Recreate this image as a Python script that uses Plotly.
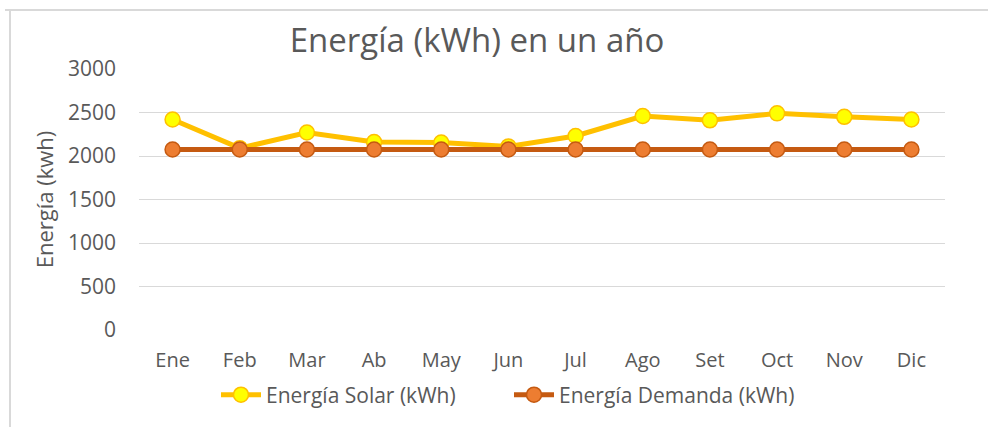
import plotly.graph_objects as go

months = ["Ene", "Feb", "Mar", "Ab", "May", "Jun", "Jul", "Ago", "Set", "Oct", "Nov", "Dic"]
solar = [2420, 2090, 2270, 2160, 2155, 2110, 2230, 2460, 2410, 2490, 2450, 2420]
demanda = [2075, 2075, 2075, 2075, 2075, 2075, 2075, 2075, 2075, 2075, 2075, 2075]
y_ticks = [0, 500, 1000, 1500, 2000, 2500, 3000]

FONT = "Open Sans"
TXT = "#595959"

fig = go.Figure()
fig.add_trace(go.Scatter(
    x=months, y=solar, mode="lines+markers", name="Energía Solar (kWh)",
    line=dict(color="#FFC000", width=5),
    marker=dict(size=15, color="#FFFF00", line=dict(color="#FFC000", width=1.5)),
))
fig.add_trace(go.Scatter(
    x=months, y=demanda, mode="lines+markers", name="Energía Demanda (kWh)",
    line=dict(color="#C55A11", width=5),
    marker=dict(size=15, color="#ED7D31", line=dict(color="#C55A11", width=1.5)),
))

W, H = 988, 427
L, R, T, B = 139, 43, 69, 97
pw, ph = W - L - R, H - T - B

fig.update_layout(
    width=W, height=H,
    margin=dict(l=L, r=R, t=T, b=B),
    paper_bgcolor="white", plot_bgcolor="white",
    font=dict(family=FONT, color=TXT, size=20),
    title=dict(text="Energía (kWh) en un año", x=477 / W, xanchor="center",
               y=1 - 40 / H, yanchor="middle", font=dict(size=33, color=TXT, family=FONT)),
    xaxis=dict(showgrid=False, showline=False, ticks="", tickfont=dict(size=20, color=TXT),
               range=[-0.5, 11.5], ticklabelstandoff=16),
    yaxis=dict(range=[0, 3000], tickvals=y_ticks, showgrid=True, gridcolor="#d9d9d9",
               gridwidth=1.3, zeroline=False, showline=False, ticks="",
               tickfont=dict(size=21, color=TXT), ticklabelstandoff=22,
               title=dict(text="Energía (kwh)", font=dict(size=22, color=TXT), standoff=8)),
    legend=dict(orientation="h", x=(509 - L) / pw, xanchor="center", y=-(395 - 330) / ph,
                yanchor="middle", font=dict(size=21, color=TXT), itemwidth=40,
                entrywidth=238, bgcolor="rgba(0,0,0,0)"),
    shapes=[
        dict(type="line", xref="paper", yref="paper",
             x0=(5 - L) / pw, x1=(W + 5 - L) / pw, y0=(H - B - 10) / ph, y1=(H - B - 10) / ph,
             line=dict(color="#d9d9d9", width=2)),
        dict(type="line", xref="paper", yref="paper",
             x0=(10 - L) / pw, x1=(10 - L) / pw, y0=(H - B - 10) / ph, y1=(H - B - H - 5) / ph,
             line=dict(color="#d9d9d9", width=2)),
    ],
)

fig.write_html("out.html", config={"displayModeBar": False},
               post_script="document.body.style.margin='0px';")
